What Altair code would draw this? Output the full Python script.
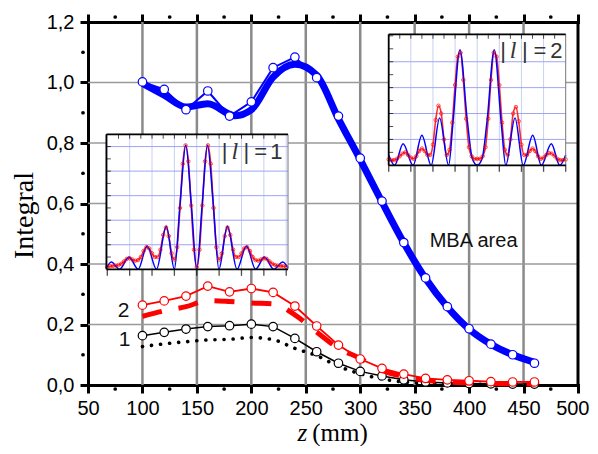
import altair as alt
import pandas as pd

# ---------------- main panel data ----------------
z_vals = [100, 120, 140, 160, 180, 200, 220, 240, 260, 280, 300, 320, 340, 360, 380, 400, 420, 440, 460]
mba_meas = [1.002, 0.977, 0.910, 0.972, 0.889, 0.936, 1.049, 1.084, 1.016, 0.889, 0.750, 0.608, 0.471, 0.354, 0.259, 0.186, 0.135, 0.100, 0.072]
mba_fit_z = [100, 120, 140, 160, 185, 200, 220, 240, 260, 280, 300, 320, 340, 360, 380, 400, 420, 440, 460]
mba_fit = [0.997, 0.958, 0.919, 0.930, 0.890, 0.910, 1.018, 1.060, 1.024, 0.880, 0.745, 0.605, 0.470, 0.352, 0.258, 0.185, 0.135, 0.100, 0.075]
l2_meas = [0.264, 0.278, 0.294, 0.327, 0.308, 0.319, 0.306, 0.261, 0.195, 0.132, 0.086, 0.055, 0.036, 0.022, 0.017, 0.014, 0.011, 0.010, 0.010]
l2_fit = [0.227, 0.245, 0.259, 0.279, 0.276, 0.271, 0.268, 0.232, 0.175, 0.122, 0.088, 0.048, 0.028, 0.016, 0.010, 0.007, 0.005, 0.004, 0.003]
l1_meas = [0.163, 0.174, 0.185, 0.193, 0.196, 0.201, 0.193, 0.154, 0.110, 0.072, 0.045, 0.030, 0.017, 0.010, 0.007, 0.005, 0.004, 0.003, 0.003]
l1_fit = [0.127, 0.136, 0.143, 0.149, 0.151, 0.157, 0.150, 0.121, 0.097, 0.062, 0.037, 0.020, 0.010, 0.005, 0.003, 0.002, 0.002, 0.001, 0.001]

x_ticks = [50, 100, 150, 200, 250, 300, 350, 400, 450, 500]
x_minor = [75, 125, 175, 225, 275, 325, 375, 425, 475]
y_ticks = [0.0, 0.2, 0.4, 0.6, 0.8, 1.0, 1.2]
y_minor = [0.1, 0.3, 0.5, 0.7, 0.9, 1.1]
grid_z = [100, 150, 200, 250, 300, 350, 400, 450]
grid_v = [0.2, 0.4, 0.6, 0.8, 1.0]

curve_lab_z = [82.8, 83.7]
curve_lab_v = [0.245, 0.150]
curve_lab_t = ["2", "1"]
mba_lab = {"z": [363.8], "v": [0.457], "t": ["MBA area"]}
xtitle_z_italic = {"z": [242.4], "v": [-0.1835], "t": ["z"]}
xtitle_rest = {"z": [255.9], "v": [-0.1835], "t": ["(mm)"]}

# ---------------- inset data ----------------
red_x = [-4.0, -3.875, -3.75, -3.625, -3.5, -3.375, -3.25, -3.125, -3.0, -2.875, -2.75, -2.625, -2.5,
         -2.375, -2.25, -2.125, -2.0, -1.875, -1.75, -1.625, -1.5, -1.375, -1.25, -1.125, -1.0, -0.875,
         -0.75, -0.625, -0.5, -0.375, -0.25, -0.125, 0.0, 0.125, 0.25, 0.375, 0.5, 0.625, 0.75, 0.875,
         1.0, 1.125, 1.25, 1.375, 1.5, 1.625, 1.75, 1.875, 2.0, 2.125, 2.25, 2.375, 2.5, 2.625, 2.75,
         2.875, 3.0, 3.125, 3.25, 3.375, 3.5, 3.625, 3.75, 3.875, 4.0]

# |l| = 1
in1_blue_x = [-4.04, -3.82, -3.45, -3.03, -2.62, -2.22, -1.80, -1.36, -1.00, -0.74, -0.49, -0.24, 0.0,
              0.24, 0.48, 0.73, 0.99, 1.37, 1.80, 2.22, 2.63, 3.03, 3.44, 3.85, 4.08]
in1_blue_y = [0.01, 0.06, 0.0, 0.10, 0.0, 0.19, 0.0, 0.35, 0.0, 0.55, 1.01, 0.52, 0.0,
              0.52, 1.01, 0.55, 0.0, 0.35, 0.0, 0.19, 0.0, 0.10, 0.0, 0.06, 0.01]
in1_red_y = [0.02, 0.025, 0.028, 0.03, 0.035, 0.045, 0.065, 0.085, 0.09, 0.08, 0.07, 0.075, 0.10, 0.15,
             0.18, 0.17, 0.13, 0.10, 0.10, 0.16, 0.28, 0.34, 0.27, 0.13, 0.08, 0.18, 0.50, 0.86, 1.01,
             0.88, 0.52, 0.16, 0.02, 0.16, 0.52, 0.88, 1.01, 0.86, 0.50, 0.18, 0.08, 0.13, 0.27, 0.34,
             0.28, 0.16, 0.10, 0.10, 0.13, 0.17, 0.18, 0.15, 0.10, 0.075, 0.07, 0.08, 0.09, 0.085, 0.065,
             0.045, 0.035, 0.03, 0.028, 0.025, 0.02]
in1_xdom = [-4.04, 4.08]
in1_ydom = [0.0, 1.1]
in1_vgrid = [-4, -3, -2, -1, 0, 1, 2, 3, 4]
in1_hgrid = [0.2, 0.4, 0.6, 0.8, 1.0]
in1_lab_x = [1.25, 2.22, 2.86, 3.56]
in1_lab_t = ["|", "|", "=", "1"]
in1_l_x = [1.70]
in1_lab_y = 0.896

# |l| = 2
in2_blue_x = [-4.0, -3.73, -3.35, -2.90, -2.50, -2.08, -1.70, -1.29, -1.10, -0.78, -0.45, -0.22, 0.0,
              0.22, 0.45, 0.77, 1.09, 1.29, 1.71, 2.08, 2.51, 2.90, 3.35, 3.73, 4.0]
in2_blue_y = [0.08, 0.0, 0.167, 0.0, 0.232, 0.0, 0.366, 0.0, 0.32, 0.893, 0.35, 0.05, 0.0,
              0.05, 0.35, 0.893, 0.32, 0.0, 0.366, 0.0, 0.232, 0.0, 0.167, 0.0, 0.08]
in2_red_y = [0.045, 0.04, 0.04, 0.05, 0.07, 0.09, 0.10, 0.08, 0.06, 0.05, 0.07, 0.11, 0.13, 0.11, 0.08,
             0.08, 0.16, 0.35, 0.46, 0.40, 0.20, 0.08, 0.12, 0.33, 0.62, 0.84, 0.87, 0.66, 0.36, 0.14,
             0.07, 0.05, 0.05, 0.05, 0.07, 0.14, 0.36, 0.66, 0.87, 0.84, 0.62, 0.33, 0.12, 0.08, 0.20,
             0.40, 0.45, 0.34, 0.16, 0.08, 0.08, 0.11, 0.13, 0.11, 0.07, 0.05, 0.06, 0.08, 0.095, 0.09,
             0.07, 0.05, 0.04, 0.04, 0.045]
in2_xdom = [-4.0, 4.0]
in2_ydom = [0.0, 1.012]
in2_vgrid = [-3, -2, -1, 0, 1, 2, 3]
in2_hgrid = [0.2, 0.4, 0.6, 0.8]
in2_lab_x = [1.17, 2.15, 2.83, 3.58]
in2_lab_t = ["|", "|", "=", "2"]
in2_l_x = [1.62]
in2_lab_y = 0.831

inset_top_ticks = [-3.5, -3.0, -2.5, -2.0, -1.5, -1.0, -0.5, 0.0, 0.5, 1.0, 1.5, 2.0, 2.5, 3.0, 3.5]
inset_bottom_ticks = [-4, -3, -2, -1, 0, 1, 2, 3, 4]
inset_left_ticks = [0.1, 0.2, 0.3, 0.4, 0.5, 0.6, 0.7, 0.8, 0.9, 1.0]

SANS = "Liberation Sans"
SERIF = "Liberation Serif"

# ---------------- main panel ----------------
xs = alt.Scale(domain=[50, 500], nice=False, zero=False)
ys = alt.Scale(domain=[0, 1.2], nice=False, zero=False)


def X(field="z", axis=None):
    if axis is None:
        return alt.X(f"{field}:Q", scale=xs, axis=None)
    return alt.X(f"{field}:Q", scale=xs, axis=axis)


def Y(field="v", axis=None):
    if axis is None:
        return alt.Y(f"{field}:Q", scale=ys, axis=None)
    return alt.Y(f"{field}:Q", scale=ys, axis=axis)


axis_bottom = alt.Axis(orient="bottom", values=x_ticks, format="d", grid=False, title=None,
                       labelFlush=True, labelFlushOffset=11, labelOverlap=False, labelBound=False,
                       domainColor="black", domainWidth=3, domainCap="square",
                       tickColor="black", tickWidth=3, tickSize=8, labelPadding=5,
                       labelFont=SANS, labelFontSize=20, labelColor="black")
axis_top = alt.Axis(orient="top", values=x_ticks, grid=False, title=None, labels=False,
                    domainColor="black", domainWidth=3, domainCap="square",
                    tickColor="black", tickWidth=3, tickSize=8)
axis_left = alt.Axis(orient="left", values=y_ticks, grid=False, title="Integral",
                     labelExpr="replace(format(datum.value, '.1f'), '.', ',')",
                     labelFlush=False, labelOverlap=False,
                     domainColor="black", domainWidth=3, domainCap="square",
                     tickColor="black", tickWidth=3, tickSize=8, labelPadding=6,
                     labelFont=SANS, labelFontSize=20, labelColor="black",
                     titleFont=SERIF, titleFontSize=28, titleFontWeight="normal", titleColor="black",
                     titleAngle=270, titleX=-55.6, titleY=193, titleAlign="center",
                     titleBaseline="alphabetic")

df_meas = pd.DataFrame({"z": z_vals, "mba": mba_meas, "l2": l2_meas, "l1": l1_meas,
                        "l2f": l2_fit, "l1f": l1_fit})
df_mbafit = pd.DataFrame({"z": mba_fit_z, "v": mba_fit})

# invisible carrier of the bottom and left axes
axis_carrier = alt.Chart(pd.DataFrame({"z": [x_ticks[0], x_ticks[-1]], "v": [y_ticks[0], y_ticks[-1]]})).mark_point(
    opacity=0).encode(x=X(axis=axis_bottom), y=Y(axis=axis_left))

vgrid = alt.Chart(pd.DataFrame({"z": grid_z})).mark_rule(color="#8a8a8a", strokeWidth=2.5).encode(x=X())
hgrid = alt.Chart(pd.DataFrame({"v": grid_v})).mark_rule(color="#9a9a9a", strokeWidth=1.5).encode(y=Y())

l1_dotted = alt.Chart(df_meas).mark_line(color="black", strokeWidth=3.6, strokeDash=[0.1, 9],
                                         strokeCap="round", interpolate="monotone").encode(x=X(), y=Y("l1f"))
l1_line = alt.Chart(df_meas).mark_line(color="black", strokeWidth=1.5).encode(x=X(), y=Y("l1"))
l1_pts = alt.Chart(df_meas).mark_circle(fill="white", stroke="black", strokeWidth=1.2, size=72,
                                        opacity=1).encode(x=X(), y=Y("l1"))
l2_dashed = alt.Chart(df_meas).mark_line(color="red", strokeWidth=5, strokeDash=[20, 17],
                                         interpolate="monotone").encode(x=X(), y=Y("l2f"))
l2_line = alt.Chart(df_meas).mark_line(color="red", strokeWidth=1.8).encode(x=X(), y=Y("l2"))
l2_pts = alt.Chart(df_meas).mark_circle(fill="white", stroke="red", strokeWidth=1.2, size=72,
                                        opacity=1).encode(x=X(), y=Y("l2"))
mba_thick = alt.Chart(df_mbafit).mark_line(color="blue", strokeWidth=7, interpolate="monotone").encode(
    x=X(), y=Y("v"))
mba_line = alt.Chart(df_meas).mark_line(color="blue", strokeWidth=2).encode(x=X(), y=Y("mba"))
mba_pts = alt.Chart(df_meas).mark_circle(fill="white", stroke="blue", strokeWidth=1.2, size=72,
                                         opacity=1).encode(x=X(), y=Y("mba"))

right_frame = alt.Chart(pd.DataFrame({"z": [x_ticks[-1]]})).mark_rule(color="black", strokeWidth=3).encode(
    x=X(axis=axis_top))

minor_bottom = alt.Chart(pd.DataFrame({"z": x_minor, "v": [y_ticks[0]] * len(x_minor)})).mark_circle(
    color="black", size=14, opacity=1, yOffset=4).encode(x=X(), y=Y())
minor_top = alt.Chart(pd.DataFrame({"z": x_minor, "v": [y_ticks[-1]] * len(x_minor)})).mark_circle(
    color="black", size=14, opacity=1, yOffset=-5).encode(x=X(), y=Y())
minor_left = alt.Chart(pd.DataFrame({"z": [x_ticks[0]] * len(y_minor), "v": y_minor})).mark_circle(
    color="black", size=14, opacity=1, xOffset=-5).encode(x=X(), y=Y())

curve_labels = alt.Chart(pd.DataFrame({"z": curve_lab_z, "v": curve_lab_v, "t": curve_lab_t})).mark_text(
    font=SANS, fontSize=21, color="#111", align="center", baseline="middle").encode(x=X(), y=Y(), text="t:N")
mba_text = alt.Chart(pd.DataFrame(mba_lab)).mark_text(
    font=SANS, fontSize=20, color="#111", align="left", baseline="alphabetic").encode(x=X(), y=Y(), text="t:N")
xt1 = alt.Chart(pd.DataFrame(xtitle_z_italic)).mark_text(
    font=SERIF, fontSize=25, fontStyle="italic", color="black", align="left", baseline="alphabetic").encode(
    x=X(), y=Y(), text="t:N")
xt2 = alt.Chart(pd.DataFrame(xtitle_rest)).mark_text(
    font=SERIF, fontSize=25, color="black", align="left", baseline="alphabetic").encode(
    x=X(), y=Y(), text="t:N")

main_layers = [vgrid, hgrid, axis_carrier, l1_dotted, l1_line, l1_pts, l2_dashed, l2_line, l2_pts,
               mba_thick, mba_line, mba_pts, right_frame, minor_bottom, minor_top, minor_left,
               curve_labels, mba_text, xt1, xt2]


# ---------------- insets ----------------
def make_inset(xdom, ydom, xr, yr, bx, by, ry, vg, hg, lab_x, lab_t, l_x, lab_y):
    sx = alt.Scale(domain=xdom, range=xr, nice=False, zero=False)
    sy = alt.Scale(domain=ydom, range=yr, nice=False, zero=False)

    def IX(f):
        return alt.X(f"{f}:Q", scale=sx, axis=None)

    def IY(f):
        return alt.Y(f"{f}:Q", scale=sy, axis=None)

    bg = alt.Chart(pd.DataFrame({"x": [xdom[0]], "x2": [xdom[1]], "y": [ydom[0]], "y2": [ydom[1]]})).mark_rect(
        color="white").encode(x=IX("x"), x2="x2:Q", y=IY("y"), y2="y2:Q")
    vgl = alt.Chart(pd.DataFrame({"x": vg, "y": [ydom[0]] * len(vg), "y2": [ydom[1]] * len(vg)})).mark_rule(
        color="#c9d0f3", strokeWidth=1).encode(x=IX("x"), y=IY("y"), y2="y2:Q")
    hgl = alt.Chart(pd.DataFrame({"y": hg, "x": [xdom[0]] * len(hg), "x2": [xdom[1]] * len(hg)})).mark_rule(
        color="#9ea5ef", strokeWidth=1).encode(y=IY("y"), x=IX("x"), x2="x2:Q")
    df_b = pd.DataFrame({"x": bx, "y": by})
    df_r = pd.DataFrame({"x": red_x, "y": ry})
    red_ln = alt.Chart(df_r).mark_line(color="#ff2a2a", strokeWidth=1.6, interpolate="monotone").encode(
        x=IX("x"), y=IY("y"))
    blue_ln = alt.Chart(df_b).mark_line(color="blue", strokeWidth=1.5, interpolate="monotone").encode(
        x=IX("x"), y=IY("y"))
    red_pt = alt.Chart(df_r).mark_point(shape="circle", color="red", filled=False, size=12,
                                        strokeWidth=1).encode(x=IX("x"), y=IY("y"))
    left = alt.Chart(pd.DataFrame({"x": [xdom[0]], "y": [ydom[0]], "y2": [ydom[1]]})).mark_rule(
        color="black", strokeWidth=1.8).encode(x=IX("x"), y=IY("y"), y2="y2:Q")
    right = alt.Chart(pd.DataFrame({"x": [xdom[1]], "y": [ydom[0]], "y2": [ydom[1]]})).mark_rule(
        color="#777777", strokeWidth=1).encode(x=IX("x"), y=IY("y"), y2="y2:Q")
    top = alt.Chart(pd.DataFrame({"y": [ydom[1]], "x": [xdom[0]], "x2": [xdom[1]]})).mark_rule(
        color="black", strokeWidth=1.8).encode(y=IY("y"), x=IX("x"), x2="x2:Q")
    bottom = alt.Chart(pd.DataFrame({"y": [ydom[0]], "x": [xdom[0]], "x2": [xdom[1]]})).mark_rule(
        color="black", strokeWidth=1.8).encode(y=IY("y"), x=IX("x"), x2="x2:Q")
    tt = alt.Chart(pd.DataFrame({"x": inset_top_ticks, "y": [ydom[1]] * len(inset_top_ticks)})).mark_tick(
        orient="vertical", size=5, thickness=1, color="black", yOffset=2).encode(x=IX("x"), y=IY("y"))
    bt_vals = [v for v in inset_bottom_ticks if xdom[0] <= v <= xdom[1]]
    bt = alt.Chart(pd.DataFrame({"x": bt_vals, "y": [ydom[0]] * len(bt_vals)})).mark_tick(
        orient="vertical", size=7, thickness=1.3, color="black", yOffset=3).encode(x=IX("x"), y=IY("y"))
    lt = alt.Chart(pd.DataFrame({"y": inset_left_ticks, "x": [xdom[0]] * len(inset_left_ticks)})).mark_tick(
        orient="horizontal", size=5, thickness=1, color="black", xOffset=2).encode(x=IX("x"), y=IY("y"))
    labs = alt.Chart(pd.DataFrame({"x": lab_x, "y": [lab_y] * len(lab_x), "t": lab_t})).mark_text(
        font=SANS, fontSize=22, color="#333333", align="center", baseline="alphabetic").encode(
        x=IX("x"), y=IY("y"), text="t:N")
    ltxt = alt.Chart(pd.DataFrame({"x": l_x, "y": [lab_y], "t": ["l"]})).mark_text(
        font=SERIF, fontSize=24, fontStyle="italic", color="#333333", align="center",
        baseline="alphabetic").encode(x=IX("x"), y=IY("y"), text="t:N")
    return [bg, vgl, hgl, red_ln, blue_ln, red_pt, left, right, top, bottom, tt, bt, lt, labs, ltxt]


inset1 = make_inset(in1_xdom, in1_ydom, [18.4, 200.0], [247.3, 112.3], in1_blue_x, in1_blue_y, in1_red_y,
                    in1_vgrid, in1_hgrid, in1_lab_x, in1_lab_t, in1_l_x, in1_lab_y)
inset2 = make_inset(in2_xdom, in2_ydom, [300.7, 477.7], [143.3, 12.3], in2_blue_x, in2_blue_y, in2_red_y,
                    in2_vgrid, in2_hgrid, in2_lab_x, in2_lab_t, in2_l_x, in2_lab_y)

chart = alt.layer(*(main_layers + inset1 + inset2)).resolve_scale(
    x="independent", y="independent").properties(
    width=490, height=363,
    autosize=alt.AutoSizeParams(type="none"),
    padding={"left": 80, "top": 14, "right": 12, "bottom": 61},
).configure_view(stroke=None).configure(background="white")

chart.save("out.html", embed_options={"renderer": "svg", "actions": False})
